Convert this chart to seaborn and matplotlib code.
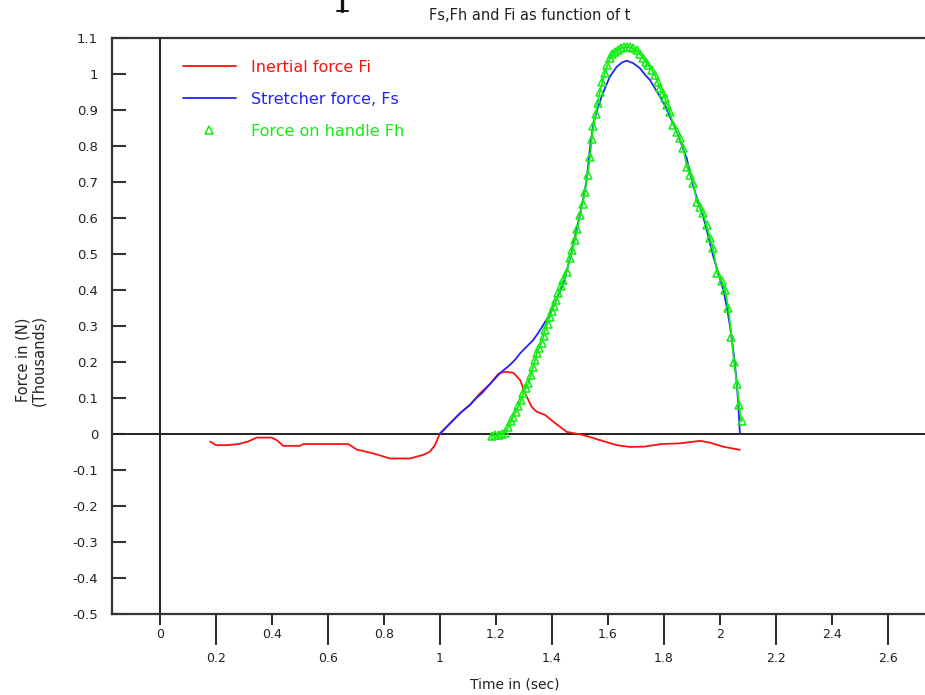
import matplotlib
matplotlib.use("Agg")
import matplotlib.pyplot as plt
from matplotlib.lines import Line2D
import numpy as np
import pandas as pd
import seaborn as sns

# ---------------- data ----------------
fi_t = [0.179, 0.200, 0.240, 0.280, 0.314, 0.345, 0.399, 0.417, 0.440, 0.500,
        0.512, 0.673, 0.702, 0.762, 0.821, 0.893, 0.940, 0.964, 0.982, 1.000,
        1.024, 1.048, 1.075, 1.107, 1.143, 1.180, 1.208, 1.232, 1.262, 1.286,
        1.304, 1.327, 1.345, 1.375, 1.405, 1.452, 1.512, 1.571, 1.631, 1.680,
        1.730, 1.790, 1.857, 1.929, 1.964, 2.010, 2.071]
fi_val = [-0.021, -0.031, -0.031, -0.028, -0.021, -0.010, -0.010, -0.017, -0.033, -0.033,
          -0.028, -0.028, -0.043, -0.054, -0.068, -0.068, -0.058, -0.049, -0.031, 0.002,
          0.020, 0.039, 0.060, 0.081, 0.113, 0.140, 0.167, 0.173, 0.170, 0.150,
          0.113, 0.076, 0.062, 0.053, 0.034, 0.006, -0.003, -0.017, -0.031, -0.036,
          -0.035, -0.028, -0.026, -0.019, -0.024, -0.035, -0.044]

fs_t = [1.000, 1.024, 1.048, 1.075, 1.107, 1.130, 1.149, 1.180, 1.214, 1.250,
        1.270, 1.286, 1.310, 1.333, 1.350, 1.369, 1.390, 1.405, 1.425, 1.440,
        1.455, 1.470, 1.482, 1.506, 1.524, 1.536, 1.548, 1.563, 1.577, 1.593,
        1.607, 1.631, 1.650, 1.667, 1.690, 1.714, 1.730, 1.750, 1.768, 1.786,
        1.805, 1.821, 1.840, 1.857, 1.869, 1.881, 1.905, 1.920, 1.940, 1.958,
        1.976, 1.995, 2.012, 2.025, 2.036, 2.046, 2.054, 2.060, 2.065, 2.071]
fs_val = [0.000, 0.020, 0.039, 0.060, 0.081, 0.100, 0.113, 0.140, 0.169, 0.192,
          0.208, 0.224, 0.243, 0.261, 0.280, 0.303, 0.330, 0.354, 0.390, 0.418,
          0.460, 0.505, 0.548, 0.631, 0.706, 0.797, 0.863, 0.905, 0.937, 0.968,
          0.993, 1.020, 1.032, 1.037, 1.030, 1.016, 1.000, 0.983, 0.960, 0.937,
          0.910, 0.881, 0.850, 0.817, 0.790, 0.766, 0.687, 0.650, 0.604, 0.550,
          0.493, 0.445, 0.400, 0.350, 0.298, 0.240, 0.187, 0.140, 0.085, 0.002]

fh_t = [1.185, 1.198, 1.210, 1.222, 1.232, 1.244, 1.253, 1.262, 1.271, 1.280,
        1.289, 1.298, 1.307, 1.316, 1.325, 1.333, 1.340, 1.345, 1.354, 1.363,
        1.370, 1.375, 1.384, 1.393, 1.400, 1.407, 1.415, 1.423, 1.432, 1.440,
        1.452, 1.464, 1.473, 1.482, 1.491, 1.500, 1.509, 1.518, 1.527, 1.536,
        1.542, 1.548, 1.556, 1.563, 1.571, 1.580, 1.589, 1.598, 1.607, 1.616,
        1.625, 1.634, 1.645, 1.656, 1.667, 1.678, 1.690, 1.702, 1.714, 1.726,
        1.735, 1.744, 1.756, 1.768, 1.777, 1.786, 1.795, 1.804, 1.812, 1.821,
        1.833, 1.845, 1.857, 1.869, 1.881, 1.893, 1.905, 1.917, 1.928, 1.940,
        1.952, 1.964, 1.975, 1.990, 2.006, 2.018, 2.030, 2.041, 2.050, 2.060,
        2.068, 2.077]
fh_val = [-0.005, -0.003, -0.002, 0.000, 0.003, 0.020, 0.035, 0.048, 0.062, 0.078,
          0.095, 0.113, 0.128, 0.143, 0.165, 0.187, 0.205, 0.224, 0.238, 0.254,
          0.272, 0.289, 0.306, 0.326, 0.342, 0.356, 0.372, 0.392, 0.410, 0.428,
          0.450, 0.489, 0.510, 0.539, 0.570, 0.608, 0.640, 0.673, 0.720, 0.769,
          0.820, 0.855, 0.890, 0.920, 0.950, 0.978, 1.003, 1.025, 1.044, 1.055,
          1.062, 1.068, 1.072, 1.074, 1.076, 1.074, 1.071, 1.067, 1.056, 1.044,
          1.034, 1.025, 1.011, 0.997, 0.978, 0.960, 0.946, 0.932, 0.913, 0.895,
          0.858, 0.840, 0.821, 0.794, 0.743, 0.720, 0.697, 0.645, 0.630, 0.613,
          0.580, 0.544, 0.517, 0.446, 0.425, 0.400, 0.350, 0.270, 0.200, 0.140,
          0.080, 0.035]

series_labels = ["Inertial force Fi", "Stretcher force, Fs", "Force on handle Fh"]
x_major = [0.0, 0.4, 0.8, 1.2, 1.6, 2.0, 2.4]
x_minor = [0.2, 0.6, 1.0, 1.4, 1.8, 2.2, 2.6]
y_ticks = [-0.5, -0.4, -0.3, -0.2, -0.1, 0.0, 0.1, 0.2, 0.3, 0.4, 0.5, 0.6,
           0.7, 0.8, 0.9, 1.0, 1.1]

# ---------------- style ----------------
sns.set_theme(style="white")
plt.rcParams['font.family'] = ['DejaVu Sans']

RED = "#ff1010"
BLUE = "#2222ff"
GREEN = "#11ee11"
AXC = "#333333"

W, H = 925, 695
fig = plt.figure(figsize=(W / 100, H / 100), dpi=100)
L, R, T, B = 112, 935, 38, 614
ax = fig.add_axes([L / W, 1 - B / H, (R - L) / W, (B - T) / H])

df_i = pd.DataFrame({"t": fi_t, "F": fi_val})
df_s = pd.DataFrame({"t": fs_t, "F": fs_val})
df_h = pd.DataFrame({"t": fh_t, "F": fh_val})

ax.axhline(0, color="#222222", lw=1.4, zorder=1)
ax.axvline(0, color="#222222", lw=1.4, zorder=1)

sns.lineplot(data=df_i, x="t", y="F", sort=False, estimator=None, color=RED,
             lw=1.3, ax=ax, zorder=3)
sns.lineplot(data=df_s, x="t", y="F", sort=False, estimator=None, color=BLUE,
             lw=1.3, ax=ax, zorder=4)
sns.lineplot(data=df_h, x="t", y="F", sort=False, estimator=None, color=GREEN,
             lw=1.2, marker="^", markersize=6, markerfacecolor="none",
             markeredgecolor=GREEN, markeredgewidth=1.1, ax=ax, zorder=5)

ax.set_xlim((L - 160) / 280, (R - 160) / 280)
ax.set_ylim(-0.5, 1.1)

# ticks
ax.set_xticks(x_major)
ax.set_xticks(x_minor, minor=True)
ax.set_xticklabels([f"{v:g}" for v in x_major])
ax.set_xticklabels([f"{v:g}" for v in x_minor], minor=True)
ax.tick_params(axis="x", which="major", direction="out", length=8, width=1.5,
               color=AXC, pad=2, labelsize=9, labelcolor="#222222", bottom=True)
ax.tick_params(axis="x", which="minor", direction="out", length=22, width=1.5,
               color=AXC, pad=5, labelsize=9, labelcolor="#222222", bottom=True)
ax.set_yticks(y_ticks)
ax.set_yticklabels([f"{v:g}" for v in y_ticks])
ax.tick_params(axis="y", which="major", direction="in", length=10, width=1.5,
               color=AXC, pad=10, labelsize=9.5, labelcolor="#222222", left=True)

for side in ["left", "top", "bottom", "right"]:
    ax.spines[side].set_color(AXC)
    ax.spines[side].set_linewidth(1.6)

ax.set_xlabel("Time in (sec)", fontsize=10, color="#222222")
ax.xaxis.set_label_coords((515 - L) / (R - L), (B - 678) / (B - T))
ax.set_ylabel("Force in (N)\n(Thousands)", fontsize=10.5, color="#222222",
              linespacing=1.1)
ax.yaxis.set_label_coords((31 - L) / (R - L), (B - 360) / (B - T))
ax.yaxis.label.set_verticalalignment("center")

# legend
handles = [
    Line2D([], [], color=RED, lw=1.3, label=series_labels[0]),
    Line2D([], [], color=BLUE, lw=1.3, label=series_labels[1]),
    Line2D([], [], color=GREEN, ls="none", marker="^", markersize=6,
           markerfacecolor="none", markeredgecolor=GREEN, markeredgewidth=1.1,
           label=series_labels[2]),
]
ax.legend(handles=handles, loc="upper left",
          bbox_to_anchor=((183 - L) / (R - L), (B - 60) / (B - T)),
          frameon=False, fontsize=11.5, handlelength=3.3, handletextpad=0.95,
          labelspacing=1.05, borderpad=0, borderaxespad=0,
          labelcolor=[RED, BLUE, GREEN])

fig.text(530 / W, 1 - 16 / H, "Fs,Fh and Fi as function of t", ha="center",
         va="center", fontsize=10.5, color="#222222")

# bottom stroke of a larger heading letter cut off by the image's top edge
fig.add_artist(Line2D([342 / W, 342 / W], [1.0, 1 - 11 / H], color="#111111",
                      lw=2.4, transform=fig.transFigure))
fig.add_artist(Line2D([337 / W, 348 / W], [1 - 11 / H, 1 - 11 / H], color="#111111",
                      lw=1.4, transform=fig.transFigure))

fig.savefig("out.png", dpi=100)
